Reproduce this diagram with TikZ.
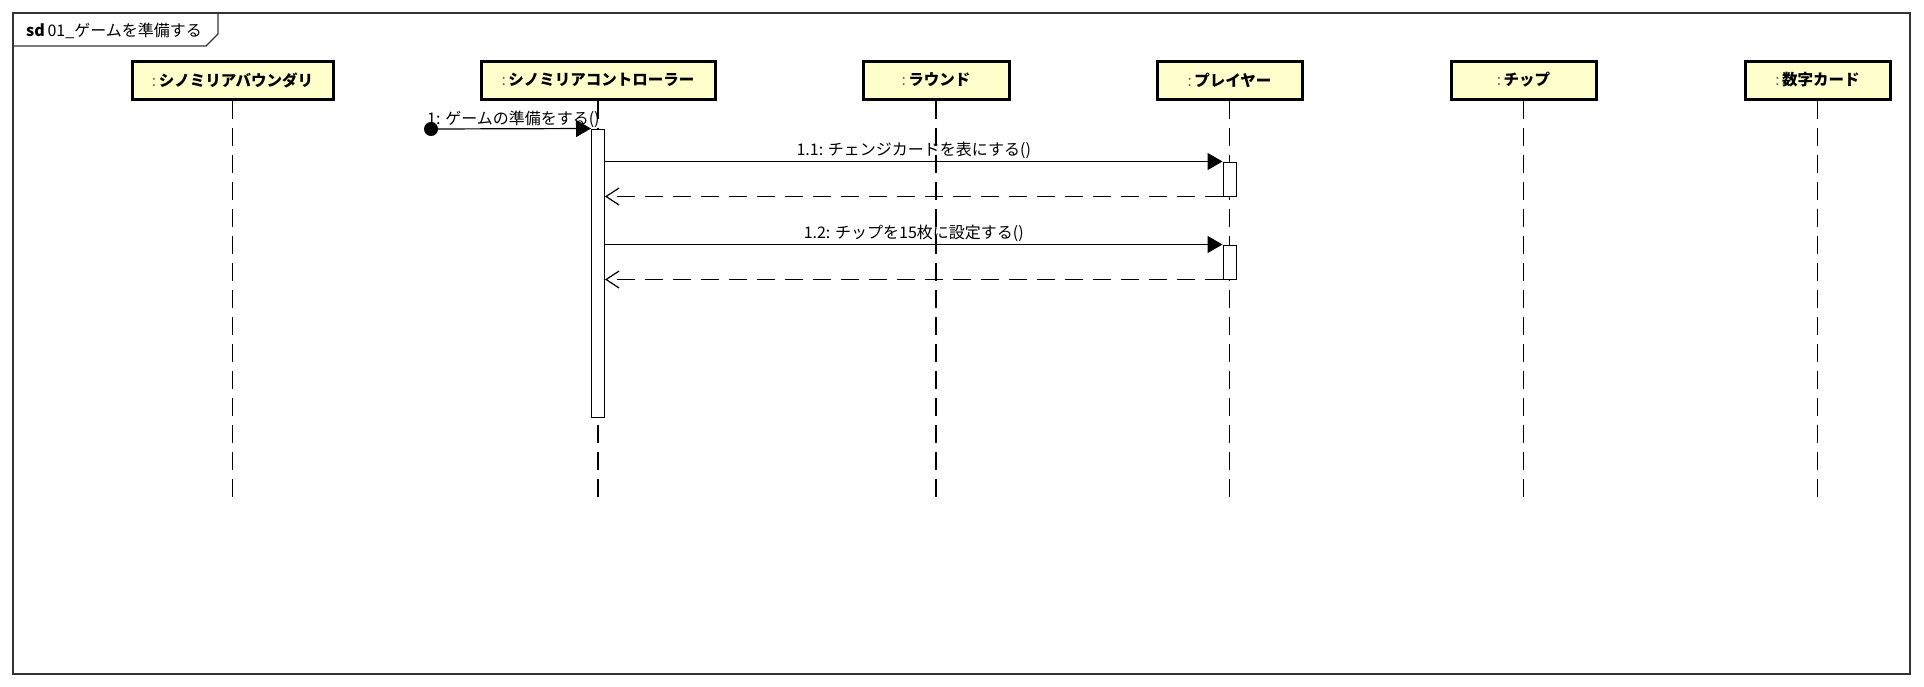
\documentclass[tikz,border=0pt]{standalone}
\usepackage{fontspec}
\setmainfont{Noto Sans CJK JP}
\usetikzlibrary{arrows.meta, positioning}

\definecolor{headyellow}{HTML}{FFFFCC}

\tikzset{
  lifehead/.style={draw, line width=3pt, fill=headyellow, minimum height=38, inner sep=0,
    font=\bfseries\fontsize{15.5}{18}\selectfont},
  lifeline/.style={line width=1.2pt, dash pattern=on 18pt off 9pt},
  actbox/.style={draw, fill=white, line width=1pt, minimum width=13, inner sep=0},
  callmsg/.style={line width=1.2pt, -{Triangle[length=15pt,width=17pt]}},
  retmsg/.style={line width=1.2pt, dash pattern=on 18pt off 10pt, -{Straight Barb[length=13pt,width=17pt,line width=1.2pt]}},
  msglabel/.style={font=\fontsize{16}{18}\selectfont, inner sep=1pt}
}
\newcommand{\objcolon}{\textmd{\color{black!60}:}\,}

\begin{document}
\begin{tikzpicture}[x=1pt, y=-1pt]
\useasboundingbox (0,0) rectangle (1924,686);
% frame
\draw[line width=1.3pt, black!80] (13,13) rectangle (1910,674);
\draw[line width=1.3pt, black!80] (13,46) -- (206,46) -- (218,34) -- (218,13);
\node[anchor=west, inner sep=0, font=\fontsize{16}{18}\selectfont] (title) at (26,31) {\textbf{sd}\,01\_ゲームを準備する};

% lifeline heads
\node[lifehead, minimum width=201] (boundary) at (232.5,80) {\objcolon シノミリアバウンダリ};
\node[lifehead, minimum width=234] (controller) at (598,80) {\objcolon シノミリアコントローラー};
\node[lifehead, minimum width=146] (round) at (936,80) {\objcolon ラウンド};
\node[lifehead, minimum width=145] (player) at (1229.5,80) {\objcolon プレイヤー};
\node[lifehead, minimum width=145] (chip) at (1523.5,80) {\objcolon チップ};
\node[lifehead, minimum width=145] (numcard) at (1817.5,80) {\objcolon 数字カード};

\coordinate (lineEnd) at (0,500);
\foreach \n in {boundary, controller, round, player, chip, numcard}
  \draw[lifeline] (\n.south) -- (\n.south |- lineEnd);

% activations
\node[actbox, minimum height=288] (actCtrl) at (598,273) {};
\node[actbox, minimum height=34] (actPl1) at (1229.5,179) {};
\node[actbox, minimum height=34] (actPl2) at (1229.5,262) {};

% messages
\coordinate (start) at (431,129);
\fill (start) circle (7);
\draw[callmsg] (start) -- (actCtrl.north west);
\node[msglabel, anchor=south west] (m1) at (426,129) {1: ゲームの準備をする()};

\draw[callmsg] (actCtrl.east |- actPl1.north) -- (actPl1.north west)
  node[msglabel, midway, above=1pt] (m11) {1.1: チェンジカードを表にする()};
\draw[retmsg] (actPl1.south west) -- (actCtrl.east |- actPl1.south);

\draw[callmsg] (actCtrl.east |- actPl2.north) -- (actPl2.north west)
  node[msglabel, midway, above=1pt] (m12) {1.2: チップを15枚に設定する()};
\draw[retmsg] (actPl2.south west) -- (actCtrl.east |- actPl2.south);
\end{tikzpicture}
\end{document}
